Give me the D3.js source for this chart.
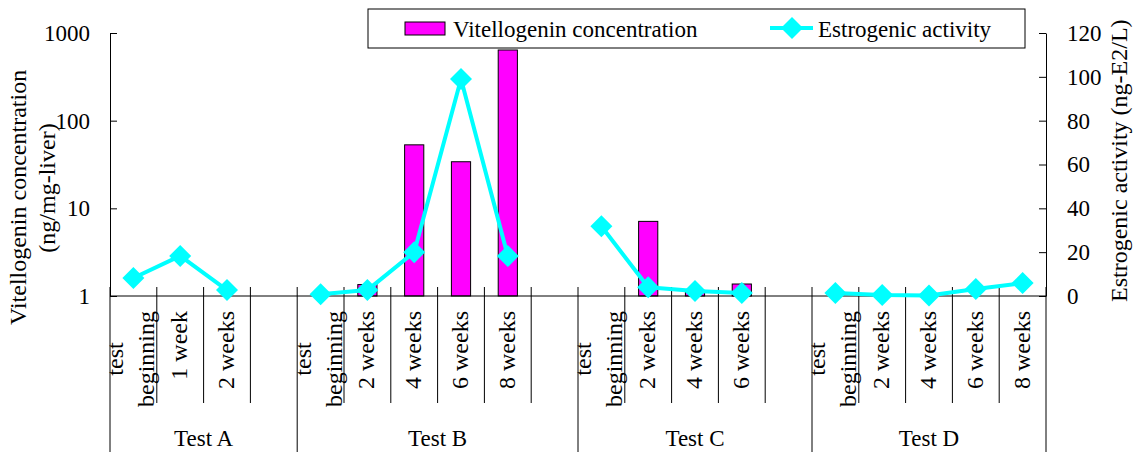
<!DOCTYPE html>
<html>
<head>
<meta charset="utf-8">
<script src="https://cdn.jsdelivr.net/npm/d3@7"></script>
<style>
  body { margin: 0; background: #fff; }
  text { font-family: "Liberation Serif", "Times New Roman", serif; font-size: 23px; fill: #000; }
  text.rot { font-size: 24px; }
</style>
</head>
<body>
<svg id="chart" width="1135" height="452"></svg>
<script>
// slots along the x axis: test group + sampling time ("" = empty spacer slot)
const slotGroups = ["Test A", "Test A", "Test A", "Test A",
  "Test B", "Test B", "Test B", "Test B", "Test B", "Test B",
  "Test C", "Test C", "Test C", "Test C", "Test C",
  "Test D", "Test D", "Test D", "Test D", "Test D"];
const slotLabels = ["test beginning", "1 week", "2 weeks", "",
  "test beginning", "2 weeks", "4 weeks", "6 weeks", "8 weeks", "",
  "test beginning", "2 weeks", "4 weeks", "6 weeks", "",
  "test beginning", "2 weeks", "4 weeks", "6 weeks", "8 weeks"];
const groups = ["Test A", "Test B", "Test C", "Test D"];

// Vitellogenin concentration (ng/mg-liver), log axis; null = no bar
const vitellogenin = [null, null, null, null,
  null, 1.35, 53, 34, 640, null,
  null, 7.1, 1.1, 1.37, null,
  null, null, null, null, null];
// Estrogenic activity (ng-E2/L)
const estrogenic = [8.2, 18.3, 2.7, null,
  0.8, 2.7, 20, 99, 18.2, null,
  31.8, 4, 2.3, 1.4, null,
  1.4, 0.5, 0.2, 3.2, 5.9];

const leftTicks = [1, 10, 100, 1000];
const rightTicks = [0, 20, 40, 60, 80, 100, 120];

const svg = d3.select("#chart");
const pLeft = 110, pRight = 1046, pTop = 33, pBottom = 296;

const x = d3.scaleBand().domain(d3.range(slotLabels.length)).range([pLeft, pRight]).padding(0);
const yL = d3.scaleLog().domain([1, 1000]).range([pBottom, pTop]);
const yR = d3.scaleLinear().domain([0, 120]).range([pBottom, pTop]);

// bars
const bw = x.bandwidth() * 0.41;
svg.append("g").selectAll("rect")
  .data(vitellogenin.map((v, i) => ({ v, i })).filter(d => d.v != null))
  .enter().append("rect")
  .attr("x", d => x(d.i) + (x.bandwidth() - bw) / 2)
  .attr("y", d => yL(d.v))
  .attr("width", bw)
  .attr("height", d => yL(1) - yL(d.v))
  .attr("fill", "#ff00ff")
  .attr("stroke", "#000")
  .attr("stroke-width", 1);

// axes
const axL = svg.append("g").attr("transform", `translate(${pLeft},0)`)
  .call(d3.axisLeft(yL).tickValues(leftTicks).tickFormat(d3.format("d")).tickSizeInner(-7).tickSizeOuter(0).tickPadding(20));
const axR = svg.append("g").attr("transform", `translate(${pRight},0)`)
  .call(d3.axisRight(yR).tickValues(rightTicks).tickSizeInner(-7).tickSizeOuter(0).tickPadding(21));
[axL, axR].forEach(a => {
  a.attr("font-size", null).attr("font-family", null);
  a.selectAll("path, line").attr("stroke", "#000");
});

// x axis line and category dividers
svg.append("line").attr("x1", pLeft).attr("x2", pRight).attr("y1", pBottom).attr("y2", pBottom).attr("stroke", "#000");
const bounds = d3.range(slotLabels.length + 1).map(i => i < slotLabels.length ? x(i) : pRight);
bounds.forEach((bx, i) => {
  const isGroup = i === 0 || i === slotLabels.length || slotGroups[i] !== slotGroups[i - 1];
  svg.append("line")
    .attr("x1", bx).attr("x2", bx)
    .attr("y1", pBottom - 9).attr("y2", isGroup ? 452 : 403)
    .attr("stroke", "#000").attr("stroke-width", 1);
});

// category labels (rotated)
slotLabels.forEach((lab, i) => {
  if (!lab) return;
  const cx = x(i) + x.bandwidth() / 2;
  const g = svg.append("g").attr("transform", `translate(${cx},311) rotate(-90)`);
  if (lab === "test beginning") {
    const t2 = g.append("text").attr("class", "rot").attr("x", 0).attr("y", 21).attr("text-anchor", "end").text("beginning");
    const len = t2.node().getComputedTextLength();
    g.append("text").attr("class", "rot").attr("x", -len / 2).attr("y", -10).attr("text-anchor", "middle").text("test");
  } else {
    g.append("text").attr("class", "rot").attr("x", 0).attr("y", 7).attr("text-anchor", "end").text(lab);
  }
});

// group labels
groups.forEach(gName => {
  const idx = slotGroups.map((g, i) => g === gName ? i : -1).filter(i => i >= 0);
  const x0 = x(idx[0]), x1 = x(idx[idx.length - 1]) + x.bandwidth();
  svg.append("text").attr("x", (x0 + x1) / 2).attr("y", 446).attr("text-anchor", "middle").text(gName);
});

// line series, broken at empty slots
const line = d3.line()
  .defined(d => d.v != null)
  .x(d => x(d.i) + x.bandwidth() / 2)
  .y(d => yR(d.v));
const pts = estrogenic.map((v, i) => ({ v, i }));
svg.append("path").datum(pts)
  .attr("d", line)
  .attr("fill", "none")
  .attr("stroke", "#00ffff")
  .attr("stroke-width", 4)
  .attr("stroke-linejoin", "round");

const diamond = "M0,-11L11,0L0,11L-11,0Z";
svg.append("g").selectAll("path")
  .data(pts.filter(d => d.v != null))
  .enter().append("path")
  .attr("d", diamond)
  .attr("transform", d => `translate(${x(d.i) + x.bandwidth() / 2},${yR(d.v)})`)
  .attr("fill", "#00ffff");

// axis titles
svg.append("clipPath").attr("id", "ltclip")
  .append("rect").attr("x", 0).attr("y", 70).attr("width", 100).attr("height", 400);
const lt = svg.append("g").attr("clip-path", "url(#ltclip)");
lt.append("text").attr("class", "rot").attr("transform", "translate(26,325) rotate(-90)")
  .text("Vitellogenin concentration");
svg.append("text").attr("class", "rot").attr("transform", "translate(55,188) rotate(-90)").attr("text-anchor", "middle")
  .text("(ng/mg-liver)");
svg.append("text").attr("class", "rot").attr("transform", "translate(1127,302) rotate(-90)")
  .text("Estrogenic activity (ng-E2/L)");

// legend
const lg = svg.append("g");
lg.append("rect").attr("x", 368).attr("y", 9).attr("width", 657).attr("height", 39)
  .attr("fill", "#fff").attr("stroke", "#000");
lg.append("rect").attr("x", 405).attr("y", 22).attr("width", 40).attr("height", 13)
  .attr("fill", "#ff00ff").attr("stroke", "#000");
lg.append("text").attr("x", 453).attr("y", 37).text("Vitellogenin concentration");
lg.append("line").attr("x1", 770).attr("x2", 813).attr("y1", 28).attr("y2", 28)
  .attr("stroke", "#00ffff").attr("stroke-width", 4);
lg.append("path").attr("d", diamond).attr("transform", "translate(792,28)").attr("fill", "#00ffff");
lg.append("text").attr("x", 818).attr("y", 37).text("Estrogenic activity");
</script>
</body>
</html>
